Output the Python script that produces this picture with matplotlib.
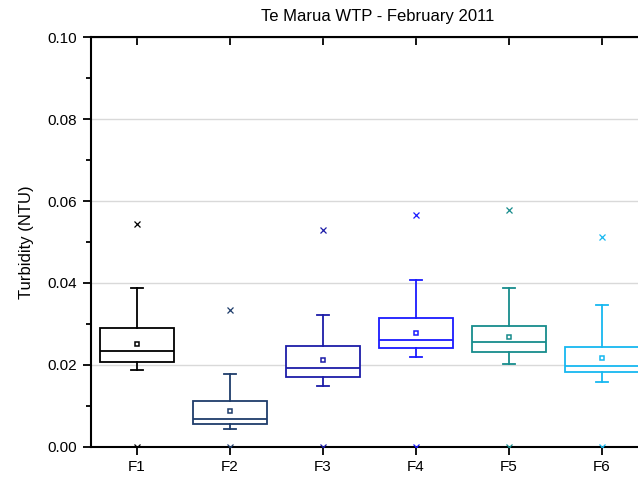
import matplotlib
matplotlib.use("Agg")
import matplotlib.pyplot as plt

plt.rcParams["font.family"] = ["Liberation Sans", "DejaVu Sans"]

# per-filter summary stats (NTU)
labels  = ["F1", "F2", "F3", "F4", "F5", "F6"]
colors  = ["#000000", "#1f3d6b", "#1c1ca8", "#1a1aff", "#178c8c", "#17b8f0"]
whislo  = [0.0187, 0.0043, 0.0150, 0.0220, 0.0203, 0.0158]
q1      = [0.0207, 0.0056, 0.0171, 0.0241, 0.0231, 0.0182]
med     = [0.0233, 0.0069, 0.0193, 0.0261, 0.0256, 0.0198]
mean    = [0.0251, 0.0088, 0.0211, 0.0279, 0.0268, 0.0216]
q3      = [0.0290, 0.0112, 0.0246, 0.0315, 0.0295, 0.0245]
whishi  = [0.0388, 0.0179, 0.0322, 0.0408, 0.0387, 0.0346]
vmax    = [0.0543, 0.0333, 0.0529, 0.0567, 0.0578, 0.0511]
vmin    = [0.0, 0.0, 0.0, 0.0, 0.0, 0.0]

fig = plt.figure(figsize=(6.38, 4.78), dpi=100)
ax = fig.add_axes([90.5 / 638, 31 / 478, 558 / 638, 410 / 478])

for i, c in enumerate(colors):
    st = dict(label=labels[i], whislo=whislo[i], q1=q1[i], med=med[i], q3=q3[i],
              whishi=whishi[i], mean=mean[i], fliers=[vmax[i], vmin[i]])
    ax.bxp([st], positions=[i + 1], widths=0.8, showmeans=True, patch_artist=True,
           boxprops=dict(facecolor="white", edgecolor=c, lw=1.3),
           medianprops=dict(color=c, lw=1.3),
           whiskerprops=dict(color=c, lw=1.3),
           capprops=dict(color=c, lw=1.3), capwidths=0.13,
           meanprops=dict(marker="s", markersize=3.5, markerfacecolor="white",
                          markeredgecolor=c, markeredgewidth=1.1),
           flierprops=dict(marker="x", markersize=5, markeredgecolor=c,
                           markeredgewidth=0.9),
           zorder=3)

ax.set_xlim(0.5, 6.5)
ax.set_ylim(0, 0.1)
ax.set_xticks(range(1, 7))
ax.set_xticklabels(labels)
ax.set_yticks([0, 0.02, 0.04, 0.06, 0.08, 0.10])
ax.set_yticklabels(["0.00", "0.02", "0.04", "0.06", "0.08", "0.10"])
ax.set_yticks([0.01, 0.03, 0.05, 0.07, 0.09], minor=True)
ax.yaxis.grid(True, color="#d9d9d9", lw=1.0, zorder=0)
ax.set_axisbelow(True)
ax.tick_params(axis="both", which="major", labelsize=11, length=6, width=1.3, direction="out")
ax.tick_params(axis="y", which="minor", length=3.5, width=1.3, direction="out")
for sp in ax.spines.values():
    sp.set_linewidth(1.5)
ax.spines["right"].set_visible(False)

# top axis ticks point inward
sec = ax.secondary_xaxis("top")
sec.set_xticks(range(1, 7))
sec.set_xticklabels([])
sec.tick_params(direction="in", length=6, width=1.3)

ax.set_ylabel("Turbidity (NTU)", fontsize=12, labelpad=10)
fig.text(378 / 638, 1 - 17 / 478, "Te Marua WTP - February 2011", ha="center",
         va="center", fontsize=12)

fig.savefig("out.png", dpi=100)
